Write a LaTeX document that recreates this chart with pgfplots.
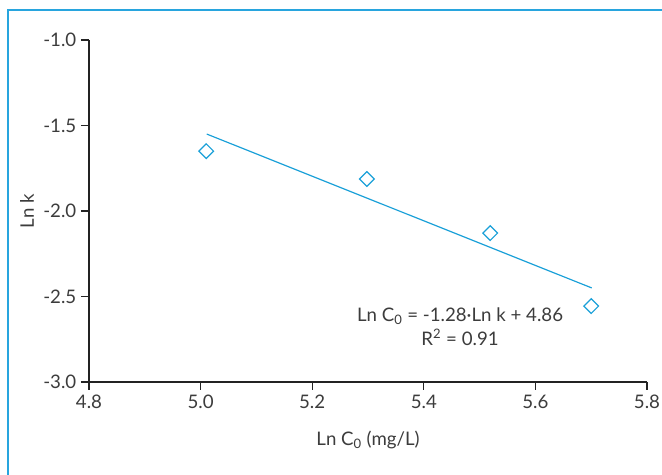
\documentclass[border=0pt]{standalone}
\usepackage{fontspec}
\setmainfont{Lato}
\usepackage{pgfplots}
\pgfplotsset{compat=1.18}

\definecolor{lineblue}{RGB}{26,160,216}
\definecolor{frameblue}{RGB}{40,165,222}
\definecolor{axisgray}{RGB}{35,35,35}
\definecolor{textgray}{RGB}{60,60,60}

\begin{document}
\begin{tikzpicture}
% page = 662 x 475 px, 1px = 0.75pt
\useasboundingbox (0,0) rectangle (496.5pt,356.25pt);
\draw[frameblue, line width=1.5pt] (6pt,0) -- (6pt,348.75pt) -- (496.5pt,348.75pt);

\begin{axis}[
    at={(66.75pt,69.75pt)}, anchor=south west,
    scale only axis,
    width=418.5pt, height=256.5pt,
    xmin=4.8, xmax=5.8,
    ymin=-3, ymax=-1,
    xtick={4.8,5.0,5.2,5.4,5.6,5.8},
    ytick={-3.0,-2.5,-2.0,-1.5,-1.0},
    axis x line*=bottom, axis y line*=left,
    axis line style={axisgray, line width=0.9pt, -},
    tick style={axisgray, line width=0.9pt},
    tick align=outside,
    major tick length=6pt,
    minor tick num=0,
    /pgf/number format/fixed,
    /pgf/number format/fixed zerofill,
    /pgf/number format/precision=1,
    /pgf/number format/assume math mode=true,
    tick label style={font=\fontsize{14}{16}\selectfont, text=textgray},
    xlabel={Ln C\textsubscript{0} (mg/L)},
    ylabel={Ln k},
    every axis x label/.style={at={(axis description cs:0.5,-0.17)}, anchor=center,
        font=\fontsize{14}{16}\selectfont, text=textgray},
    every axis y label/.style={at={(axis description cs:-0.111,0.5)}, anchor=center, rotate=90,
        font=\fontsize{14}{16}\selectfont, text=textgray},
    clip=false,
]
\addplot[only marks, mark=square, mark size=3.9pt, mark options={rotate=45, lineblue, line width=0.9pt, fill=white}]
    coordinates {(5.01,-1.65) (5.298,-1.813) (5.519,-2.129) (5.70,-2.556)};
\addplot[lineblue, line width=0.9pt] coordinates {(5.011,-1.55) (5.701,-2.45)};
\node[font=\fontsize{14}{18}\selectfont, text=textgray, align=center]
    at (axis cs:5.465,-2.675) {Ln C\textsubscript{0} = -1.28·Ln k + 4.86\\R\textsuperscript{2} = 0.91};
\end{axis}
\end{tikzpicture}
\end{document}
